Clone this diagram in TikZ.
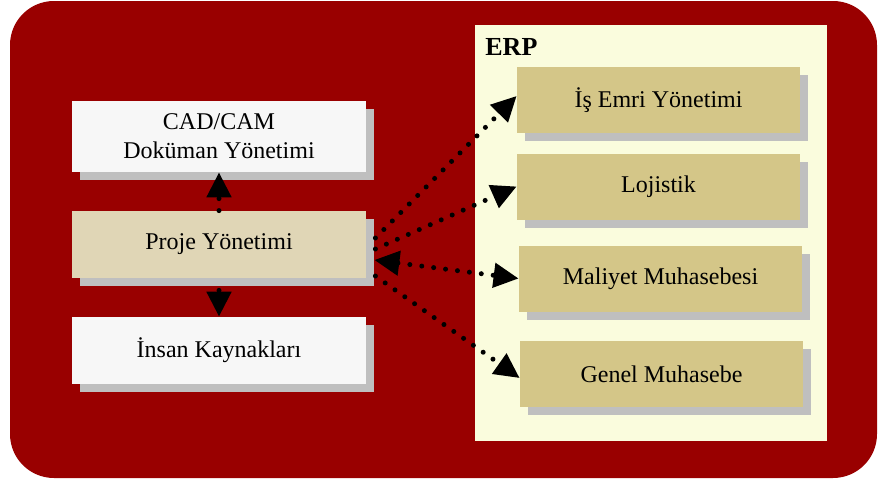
\documentclass[tikz,border=0pt]{standalone}
\usepackage{fontspec}
\setmainfont{Liberation Serif}
\usetikzlibrary{positioning,shadows,arrows.meta}
\definecolor{koyukirmizi}{HTML}{990000}
\definecolor{erpzemin}{HTML}{FAFCDD}
\definecolor{altin}{HTML}{D4C688}
\definecolor{bej}{HTML}{E0D6B6}
\definecolor{acikgri}{HTML}{F7F7F7}
\definecolor{golge}{HTML}{BFBFBF}
\begin{document}
\begin{tikzpicture}[x=0.5pt, y=-0.5pt]
	\tikzstyle{kutu}=[minimum width=147pt, minimum height=33.5pt, inner sep=0pt, align=center, font=\fontsize{12}{14.5}\selectfont, general shadow={fill=golge, shadow xshift=4pt, shadow yshift=-4pt}];
	\tikzstyle{erpkutu}=[kutu, fill=altin, minimum width=141.5pt, minimum height=33pt];
	\tikzstyle{ok}=[line width=2.5pt, dash pattern=on 0pt off 6pt, line cap=round, -{Triangle[length=12.5pt, width=12pt]}];

	\useasboundingbox (0, 0) rectangle (878, 482);
	\fill[koyukirmizi, rounded corners=22pt] (10, 1) rectangle (877, 478);
	\fill[erpzemin] (475, 25) rectangle (827, 441);
	\node[anchor=west, inner sep=0pt, font=\bfseries\fontsize{13}{15}\selectfont] (erp) at (485, 47) {ERP};

	\node[kutu, fill=acikgri, minimum height=35.5pt] (cad) at (219, 136.5) {CAD/CAM\\Doküman Yönetimi};
	\node[kutu, fill=bej] (proje) at (219, 244.5) {Proje Yönetimi};
	\node[kutu, fill=acikgri] (insan) at (219, 350.5) {İnsan Kaynakları};

	\node[erpkutu] (isemri) at (658.5, 100) {İş Emri Yönetimi};
	\node[erpkutu] (lojistik) at (658.5, 186.5) {Lojistik};
	\node[erpkutu] (maliyet) at (660.5, 278.5) {Maliyet Muhasebesi};
	\node[erpkutu] (genel) at (661.5, 374) {Genel Muhasebe};

	\draw[ok] (proje.north) -- (cad.south);
	\draw[ok, shorten <=6pt] (proje.south) -- (insan.north);
	\draw[ok] ([shift={(4.5pt, 3.25pt)}]proje.east) -- ([yshift=2pt]isemri.west);
	\draw[ok] ([shift={(4.5pt, -2.25pt)}]proje.east) -- (lojistik.west);
	\draw[ok, {Triangle[length=12.5pt, width=12pt]}-{Triangle[length=12.5pt, width=12pt]}] ([shift={(4pt, -7.75pt)}]proje.east) -- (maliyet.west);
	\draw[ok] ([shift={(4.5pt, -15.75pt)}]proje.east) -- ([yshift=-2pt]genel.west);
\end{tikzpicture}
\end{document}
